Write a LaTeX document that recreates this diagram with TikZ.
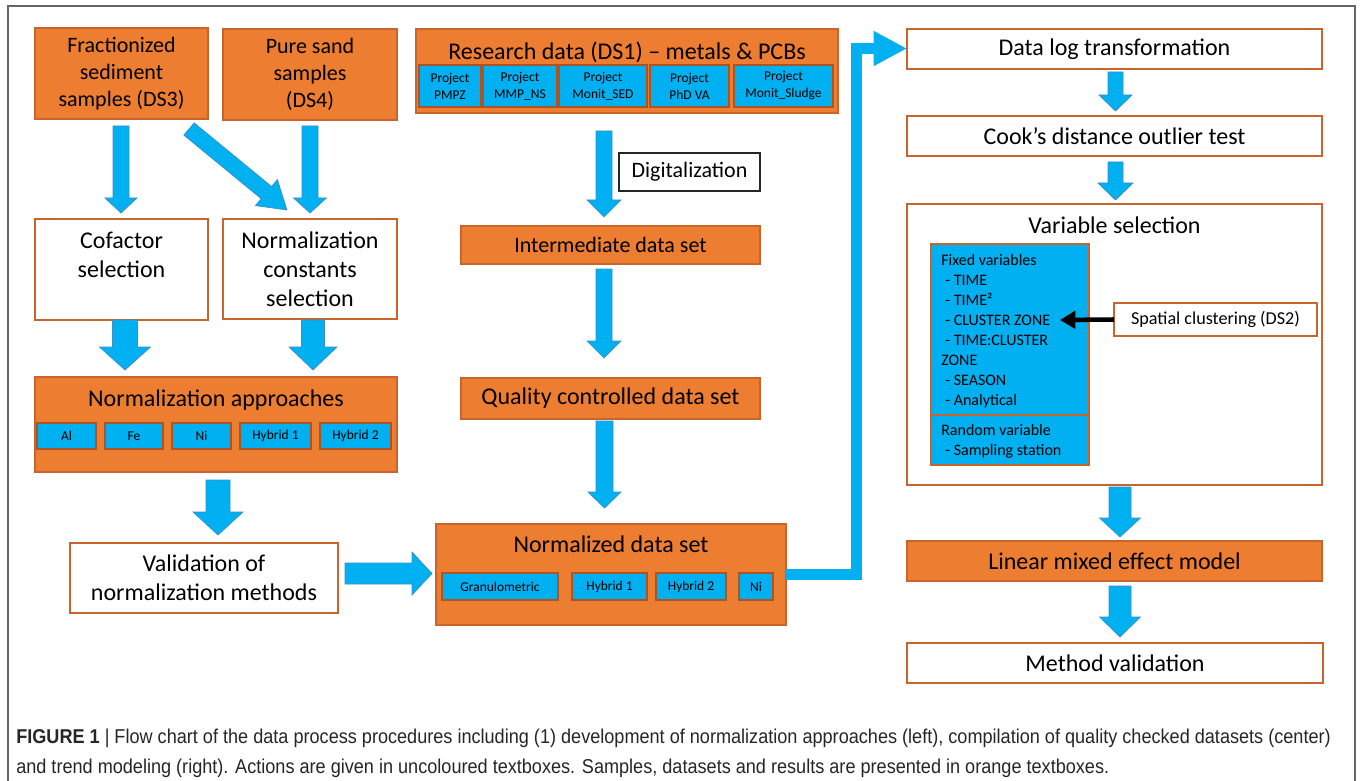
\documentclass[tikz,border=0pt]{standalone}
\usepackage{fontspec}
\usepackage{graphicx}
\setmainfont{Carlito}
\newfontfamily\capfont{Liberation Sans}
\usetikzlibrary{arrows.meta}
\definecolor{org}{HTML}{ED7D31}
\definecolor{orgd}{HTML}{C8642C}
\definecolor{bl}{HTML}{00B0F0}
\definecolor{bld}{HTML}{3A8FC4}
\definecolor{framec}{HTML}{666666}
\newcommand\fA{\fontsize{16.5}{20.25}\selectfont}
\newcommand\fB{\fontsize{18}{21.75}\selectfont}
\newcommand\fS{\fontsize{10.1}{12.75}\selectfont}
\newcommand\fV{\fontsize{12}{15}\selectfont}
\newcommand\fP{\fontsize{13.6}{16}\selectfont}
% box: name, style, x1, y1, x2, y2, text
\newcommand\bx[7]{\node[#2, anchor=north west, minimum width={(#5-#3)*0.75pt}, minimum height={(#6-#4)*0.75pt}] (#1) at (#3,#4) {#7};}
% down block arrow: xc, ytop, yhead, ytip, half shaft, half head
\newcommand\dnarr[6]{\filldraw[blockarrow] (#1-#5,#2) -- (#1+#5,#2) -- (#1+#5,#3) -- (#1+#6,#3) -- (#1,#4) -- (#1-#6,#3) -- (#1-#5,#3) -- cycle;}
\tikzset{
  base/.style={inner sep=0pt, outer sep=0pt, line width=0.9pt, align=center, text=black},
  obox/.style={base, draw=orgd, fill=org},
  wbox/.style={base, draw=orgd, fill=white},
  dbox/.style={base, draw=black!85, fill=white},
  sbox/.style={base, draw=orgd!85!black, fill=bl, font=\fS},
  vbox/.style={base, draw=orgd, fill=bl},
  blockarrow/.style={fill=bl, draw=bld, line width=0.5pt},
  vline/.style={anchor=base west, inner sep=0pt, font=\fV},
  captext/.style={anchor=base west, inner sep=0pt, text=black!85, font=\capfont\fontsize{15}{18}\selectfont},
}
\begin{document}
\begin{tikzpicture}[x=0.75pt,y=-0.75pt]
\useasboundingbox (0,0) rectangle (1360,781);
\fill[white] (0,0) rectangle (1360,781);
\draw[framec, line width=1.1pt] (8,800) -- (8,6) -- (1355,6) -- (1355,800);

% ---------- left column ----------
\bx{frac}{obox, font=\fA}{35}{28}{208}{119}{Fractionized\\sediment\\samples (DS3)}
\bx{sand}{obox, font=\fA}{223}{29}{397}{120}{Pure sand\\samples\\(DS4)}
\bx{cof}{wbox}{35}{219}{208}{320}{}
\node[font=\fB, align=center] (coft) at (121.5,255) {Cofactor\\selection};
\bx{ncs}{wbox, font=\fB}{223}{219}{397}{319}{Normalization\\constants\\selection}
\bx{napp}{obox}{35}{377}{397}{472}{}
\node[font=\fB] (nappt) at (216,400) {Normalization approaches};
\bx{al}{sbox}{37}{423}{96}{449}{Al}
\bx{fe}{sbox}{105}{423}{163}{449}{Fe}
\bx{ni}{sbox}{172}{423}{231}{449}{Ni}
\bx{hy1}{sbox}{240}{423}{311}{449}{Hybrid 1}
\bx{hy2}{sbox}{320}{423}{391}{449}{Hybrid 2}
\bx{val}{wbox, font=\fB}{70}{543}{338}{613}{Validation of\\normalization methods}

% ---------- center column ----------
\bx{res}{obox}{416}{29}{838}{113}{}
\node[font=\fB] (rest) at (627,52) {Research data (DS1) – metals \& PCBs};
\bx{p1}{sbox}{419}{65}{481}{107}{Project\\PMPZ}
\bx{p2}{sbox}{483}{65}{557}{107}{Project\\MMP\_NS}
\bx{p3}{sbox}{559}{65}{647}{107}{Project\\Monit\_SED}
\bx{p4}{sbox}{650}{65}{729}{107}{Project\\PhD VA}
\bx{p5}{sbox}{734}{65}{833}{107}{Project\\Monit\_Sludge}
\bx{dig}{dbox, font=\fA}{619}{153}{760}{191}{Digitalization}
\bx{inter}{obox, font=\fA}{461}{226}{760}{264}{Intermediate data set}
\bx{qual}{obox, font=\fB}{461}{378}{760}{419}{Quality controlled data set}
\bx{nds}{obox}{436}{524}{786}{625}{}
\node[font=\fB] (ndst) at (611,544) {Normalized data set};
\bx{gr}{sbox}{442}{573}{558}{600}{Granulometric}
\bx{nh1}{sbox}{572}{573}{647}{600}{Hybrid 1}
\bx{nh2}{sbox}{656}{573}{726}{600}{Hybrid 2}
\bx{nni}{sbox}{739}{573}{773}{600}{Ni}

% ---------- right column ----------
\bx{dlt}{wbox, font=\fB}{907}{29}{1322}{69}{Data log transformation}
\bx{cook}{wbox, font=\fB}{907}{116}{1322}{156}{Cook’s distance outlier test}
\bx{vsel}{wbox}{907}{204}{1322}{485}{}
\node[font=\fB] (vselt) at (1114.5,225) {Variable selection};
\bx{var}{vbox}{931}{244}{1089}{465}{}
\draw[orgd, line width=0.9pt] (var.west |- 0,415) -- (var.east |- 0,415);
\node[vline] (v1) at (941,265) {Fixed variables};
\node[vline] (v2) at (945,285) {- TIME};
\node[vline] (v3) at (945,305) {- TIME²};
\node[vline] (v4) at (945,325) {- CLUSTER ZONE};
\node[vline] (v5) at (945,345) {- TIME:CLUSTER};
\node[vline] (v6) at (941,365) {ZONE};
\node[vline] (v7) at (945,385) {- SEASON};
\node[vline] (v8) at (945,405) {- Analytical};
\node[vline] (v10) at (941,435) {Random variable};
\node[vline] (v11) at (945,455) {- Sampling station};
\bx{spat}{wbox, font=\fP}{1114}{303}{1317}{336}{Spatial clustering (DS2)}
\coordinate (cz) at (1060,320);
\draw[black, line width=3.4pt, -{Triangle[length=11.5pt,width=13pt]}] (spat.west) -- (cz);
\bx{lme}{obox, font=\fB}{907}{541}{1322}{581}{Linear mixed effect model}
\bx{mval}{wbox, font=\fB}{907}{643}{1323}{683}{Method validation}

% ---------- block arrows ----------
\dnarr{121}{126}{198}{213}{8}{16}
\dnarr{310}{126}{198}{213}{8}{16.5}
\filldraw[blockarrow] (183.8,135.1) -- (194.2,122.9) -- (271.6,186.5) -- (277.4,179.6) -- (287,210) -- (255.4,205.6) -- (261.2,198.7) -- cycle;
\dnarr{125}{320}{347}{370}{12.5}{25.5}
\dnarr{313}{320}{347}{370}{11.5}{24}
\dnarr{218}{480}{512}{535}{12}{25}
\filldraw[blockarrow] (345,563) -- (412,563) -- (412,552) -- (432,573.5) -- (412,595) -- (412,584) -- (345,584) -- cycle;
\dnarr{604}{131}{200}{217}{8}{17}
\dnarr{604}{269}{341}{358}{8}{17}
\dnarr{604.5}{421}{492}{508}{8.5}{16.5}
\dnarr{1115.5}{72}{95}{111}{7.5}{16.5}
\dnarr{1115.5}{162}{183}{200}{7.5}{17.5}
\dnarr{1120}{487}{518}{537}{11}{20.5}
\dnarr{1120}{586}{617}{637}{11}{20.5}

% ---------- L connector ----------
\coordinate (lc1) at (856.5,574);
\coordinate (lc2) at (856.5,48.5);
\draw[bl, line width=8.25pt, -{Triangle[length=25pt,width=24.5pt]}] (nds.east |- lc1) -- (lc1) -- (lc2) -- (dlt.west |- lc2);

% ---------- caption ----------
\node[captext] (cap1) at (16,743)
  {\scalebox{0.905}[1]{\textbf{FIGURE 1} | Flow chart of the data process procedures including (1) development of normalization approaches (left), compilation of quality checked datasets (center)}};
\node[captext] (cap2) at (16,773)
  {\scalebox{0.905}[1]{and trend modeling (right). Actions are given in uncoloured textboxes. Samples, datasets and results are presented in orange textboxes.}};
\end{tikzpicture}
\end{document}
